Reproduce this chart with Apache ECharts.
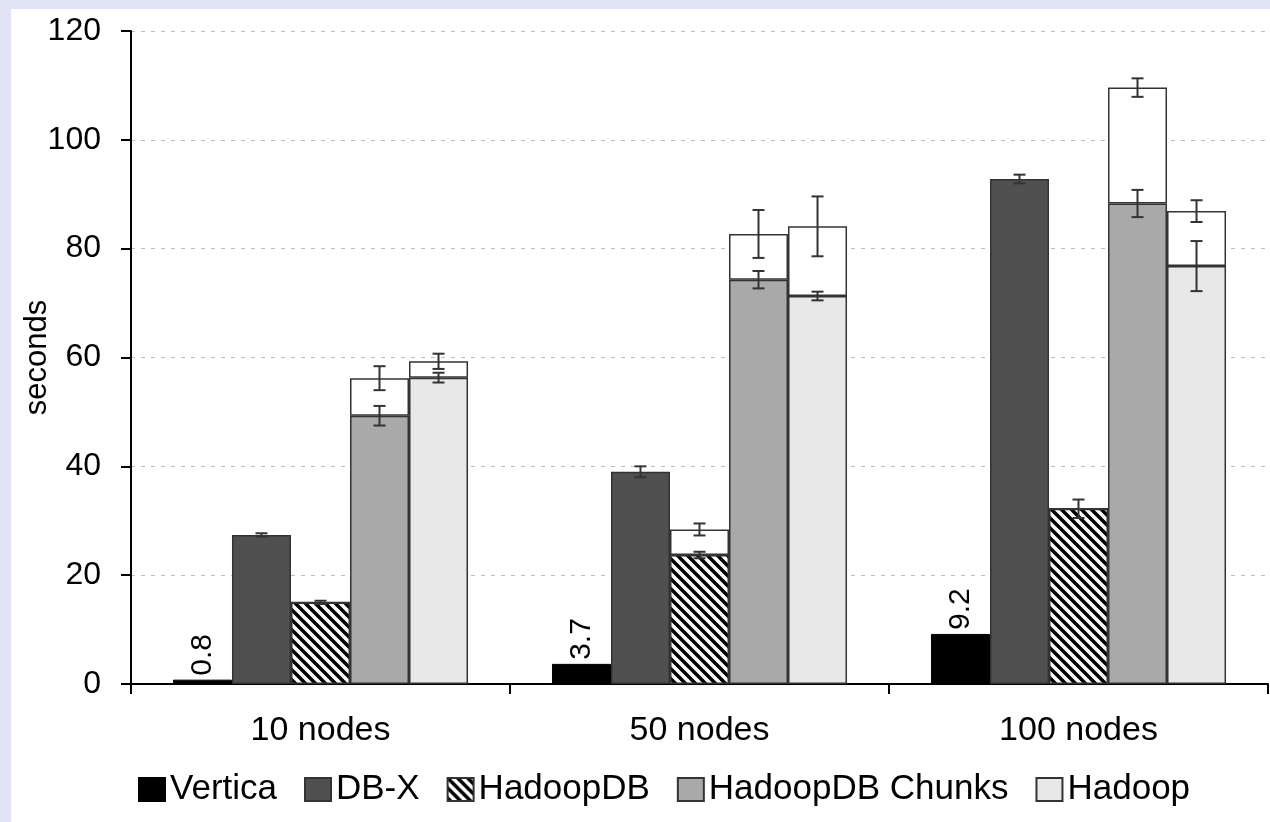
<!DOCTYPE html>
<html>
<head>
<meta charset="utf-8">
<script src="https://cdn.jsdelivr.net/npm/echarts@6/dist/echarts.min.js"></script>
<style>
  html, body { margin: 0; padding: 0; width: 1270px; height: 822px; background: #dfe3f4; overflow: hidden; }
  #chart { position: absolute; left: 11px; top: 9px; width: 1259px; height: 813px; background: #ffffff; }
</style>
</head>
<body>
<div id="chart"></div>
<script>
// Cluster sizes
const categories = ['10 nodes', '50 nodes', '100 nodes'];
const yTicks = [0, 20, 40, 60, 80, 100, 120];

// Mean run times (seconds) and their error half-widths
const vertica = [0.8, 3.7, 9.2];
const dbx = [27.4, 39.0, 92.8];
const dbxErr = [0.3, 1.0, 0.8];

const hadoopdb = [15.0, 23.7, 32.2];
const hadoopdbErr = [0.3, 0.6, 1.7];
const hadoopdbExtra = [0, 4.7, 0];          // additional time stacked on top (white)
const hadoopdbExtraErr = [0, 1.1, 0];

const chunks = [49.3, 74.3, 88.3];
const chunksErr = [1.8, 1.6, 2.5];
const chunksExtra = [6.9, 8.4, 21.3];
const chunksExtraErr = [2.2, 4.4, 1.7];

const hadoop = [56.3, 71.3, 76.8];
const hadoopErr = [0.9, 0.8, 4.6];
const hadoopExtra = [3.0, 12.8, 10.1];
const hadoopExtraErr = [1.4, 5.5, 2.0];

const FONT = '"Liberation Sans", Arial, sans-serif';
const BAR_RATIO = 0.1557;   // bar width as share of a category band
const BORDER = '#333333';

// diagonal hatch used for HadoopDB
function hatchPattern() {
  const s = 10;
  const c = document.createElement('canvas');
  c.width = s; c.height = s;
  const g = c.getContext('2d');
  g.fillStyle = '#ffffff';
  g.fillRect(0, 0, s, s);
  g.strokeStyle = '#000000';
  g.lineWidth = 3.5;
  g.beginPath();
  for (let k = -1; k <= 1; k++) {
    g.moveTo(k * s - 1, -1);
    g.lineTo(k * s + s + 1, s + 1);
  }
  g.stroke();
  return c;
}

function barSeries(name, data, color, stack, extra) {
  return Object.assign({
    name: name,
    type: 'bar',
    stack: stack,
    barWidth: (BAR_RATIO * 100) + '%',
    barGap: '0%',
    data: data,
    itemStyle: { color: color, borderColor: BORDER, borderWidth: 1.5 }
  }, extra || {});
}

// error bar items: [category, value, halfWidth, slot]
const errItems = [];
function addErr(values, errs, slot, base) {
  values.forEach((v, i) => {
    if (errs[i] > 0) {
      const y = base ? base[i] + v : v;
      errItems.push([i, y, errs[i], slot]);
    }
  });
}
addErr(dbx, dbxErr, 1);
addErr(hadoopdb, hadoopdbErr, 2);
addErr(hadoopdbExtra, hadoopdbExtraErr, 2, hadoopdb);
addErr(chunks, chunksErr, 3);
addErr(chunksExtra, chunksExtraErr, 3, chunks);
addErr(hadoop, hadoopErr, 4);
addErr(hadoopExtra, hadoopExtraErr, 4, hadoop);

const chart = echarts.init(document.getElementById('chart'), null, { renderer: 'canvas' });

chart.setOption({
  animation: false,
  textStyle: { fontFamily: FONT },
  grid: { left: 120, top: 22, right: 2, bottom: 138, containLabel: false, outerBoundsMode: 'none' },
  legend: {
    data: ['Vertica', 'DB-X', 'HadoopDB', 'HadoopDB Chunks', 'Hadoop'],
    left: 122,
    top: 758,
    icon: 'rect',
    itemWidth: 26,
    itemHeight: 23,
    itemGap: 27,
    textStyle: { fontSize: 35, color: '#000', fontFamily: FONT }
  },
  xAxis: {
    type: 'category',
    data: categories,
    axisLine: { lineStyle: { color: '#000', width: 2 } },
    axisTick: { show: true, alignWithLabel: false, length: 10, lineStyle: { color: '#000', width: 2 } },
    axisLabel: { fontSize: 34, color: '#000', margin: 30, fontFamily: FONT },
    splitLine: { show: false }
  },
  yAxis: {
    type: 'value',
    min: yTicks[0],
    max: yTicks[yTicks.length - 1],
    interval: 20,
    name: 'seconds',
    nameLocation: 'middle',
    nameGap: 78,
    nameMoveOverlap: false,
    nameTextStyle: { fontSize: 31, color: '#000', fontFamily: FONT },
    axisLine: { show: true, lineStyle: { color: '#000', width: 2 } },
    axisTick: { show: true, length: 10, lineStyle: { color: '#000', width: 2 } },
    axisLabel: { fontSize: 32, color: '#000', margin: 30, fontFamily: FONT },
    splitLine: { show: true, lineStyle: { color: '#bdbdbd', width: 1.2, type: [4, 6] } }
  },
  series: [
    barSeries('Vertica', vertica, '#000000', 'v', {
      itemStyle: { color: '#000000', borderColor: '#000', borderWidth: 1 },
      label: {
        show: true, position: 'top', rotate: 90, align: 'left', verticalAlign: 'middle',
        distance: 4, fontSize: 30, color: '#000', fontFamily: FONT,
        formatter: p => p.value.toFixed(1)
      }
    }),
    barSeries('DB-X', dbx, '#505050', 'd'),
    barSeries('HadoopDB', hadoopdb, { image: hatchPattern(), repeat: 'repeat' }, 'h'),
    barSeries('HadoopDB extra', hadoopdbExtra, '#ffffff', 'h'),
    barSeries('HadoopDB Chunks', chunks, '#a9a9a9', 'c'),
    barSeries('HadoopDB Chunks extra', chunksExtra, '#ffffff', 'c'),
    barSeries('Hadoop', hadoop, '#e8e8e8', 'o'),
    barSeries('Hadoop extra', hadoopExtra, '#ffffff', 'o'),
    {
      name: 'error',
      type: 'custom',
      z: 10,
      data: errItems,
      encode: { x: 0, y: 1 },
      renderItem: function (params, api) {
        const cat = api.value(0), v = api.value(1), e = api.value(2), slot = api.value(3);
        const band = api.size([1, 0])[0];
        const cx = api.coord([cat, v])[0] + (slot - 2) * band * BAR_RATIO;
        const yTop = api.coord([cat, v + e])[1];
        const yBot = api.coord([cat, v - e])[1];
        const cap = 6;
        const style = { stroke: '#333', lineWidth: 2 };
        return {
          type: 'group',
          children: [
            { type: 'line', shape: { x1: cx, y1: yTop, x2: cx, y2: yBot }, style: style },
            { type: 'line', shape: { x1: cx - cap, y1: yTop, x2: cx + cap, y2: yTop }, style: style },
            { type: 'line', shape: { x1: cx - cap, y1: yBot, x2: cx + cap, y2: yBot }, style: style }
          ]
        };
      }
    }
  ]
});
</script>
</body>
</html>
